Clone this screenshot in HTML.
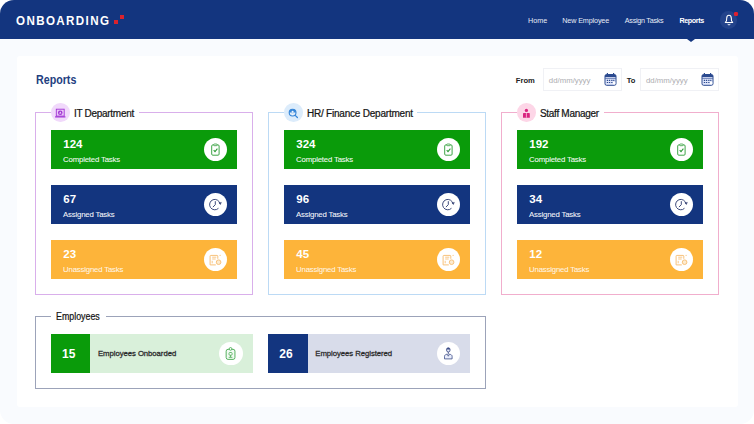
<!DOCTYPE html>
<html lang="en">
<head>
<meta charset="utf-8">
<title>Onboarding Reports</title>
<style>
*{box-sizing:border-box;margin:0;padding:0}
html,body{width:754px;height:424px;background:#fff;overflow:hidden}
body{font-family:"Liberation Sans",sans-serif;position:relative;color:#1c1c1c}
.app{position:absolute;left:0;top:0;width:754px;height:424px;background:#f9fbfe;border-radius:14px;overflow:hidden}
.hdr{position:absolute;left:0;top:0;width:754px;height:39px;background:#13357f}
.logo{position:absolute;left:16px;top:13.3px;transform:scaleY(1.15);transform-origin:0 50%;font-size:11.6px;line-height:14px;font-weight:700;color:#fff;letter-spacing:1.38px;white-space:nowrap}
.sq1{position:absolute;left:113.6px;top:19.7px;width:4.8px;height:4.8px;background:#d9232e}
.sq2{position:absolute;left:120px;top:15.3px;width:3.6px;height:3.6px;background:#d9232e}
.nav{position:absolute;top:15.6px;font-size:7.2px;line-height:10px;color:#e6ebf6;white-space:nowrap}
.nav.act{color:#fff;font-weight:700}
.tri{position:absolute;left:687.1px;top:39px;width:0;height:0;border-left:4.6px solid transparent;border-right:4.6px solid transparent;border-top:3.6px solid #13357f}
.bell{position:absolute;left:719.8px;top:11px;width:17.6px;height:17.6px;border-radius:50%;background:#23438b}
.bell svg{position:absolute;left:3.8px;top:3px}
.dot{position:absolute;left:733.9px;top:12px;width:4.4px;height:4.3px;border-radius:1.3px;background:#e0202e}
.card{position:absolute;left:16.5px;top:55.8px;width:721.2px;height:351.3px;background:#fff;border-radius:3px}
.title{position:absolute;left:36px;top:72.8px;font-size:12px;line-height:15px;font-weight:700;color:#23407f;white-space:nowrap;transform:scaleX(0.89);transform-origin:0 50%}
.lbl{position:absolute;top:76.1px;font-size:7.6px;line-height:10px;font-weight:700;color:#222;white-space:nowrap}
.inp{position:absolute;top:68px;width:79px;height:23px;border:1px solid #f0f1f5;background:#fff}
.inp span{position:absolute;left:4.8px;top:6.5px;font-size:7.8px;line-height:10px;color:#adadb1;white-space:nowrap}
.inp svg{position:absolute;left:60px;top:4.4px}
.fs{position:absolute;top:112.3px;width:217.6px;height:182.6px;border:1px solid #000}
.lg{position:absolute;top:-9.7px;left:15px;height:18px;background:#fff;white-space:nowrap;padding-right:5.2px}
.lg i{position:absolute;left:-0.3px;top:-0.3px;width:18.6px;height:18.6px;border-radius:50%;display:block}
.lg i svg{position:absolute;left:0.3px;top:0.3px;overflow:visible}
.lg b{display:block;position:relative;top:1px;margin-left:22.6px;font-size:10px;letter-spacing:-0.28px;line-height:18px;font-weight:400;color:#151515;-webkit-text-stroke:0.22px #151515}
.tile{position:absolute;left:15px;width:186px;height:39px;color:#fff}
.tile .n{position:absolute;left:12px;top:8.4px;font-size:11.5px;line-height:13px;font-weight:700}
.tile .t{position:absolute;left:11.8px;top:24.9px;font-size:7.8px;letter-spacing:-0.19px;line-height:10px;white-space:nowrap;color:rgba(255,255,255,0.93);-webkit-text-stroke:0.12px rgba(255,255,255,0.9)}
.o .t{color:rgba(255,255,255,0.85);-webkit-text-stroke:0.1px rgba(255,255,255,0.8)}
.ic{position:absolute;left:152.3px;top:7.8px;width:23.4px;height:23.4px;border-radius:50%;background:#fff}
.ic svg{position:absolute;left:0.2px;top:0.2px}
.g{background:#0a9b0a}.n1{background:#13357f}.o{background:#fdb43a}
.t1{top:16.7px}.t2{top:71.7px}.t3{top:126.7px}
.et{position:absolute;top:334px;width:202px;height:38.8px}
.et .nb{position:absolute;left:0;top:0;width:39.4px;height:38.8px;color:#fff;font-weight:700;font-size:12px;line-height:38.8px;padding-top:0.6px;padding-left:11px;text-align:left}
.et .t{position:absolute;left:47px;top:15px;font-size:7.75px;letter-spacing:-0.06px;line-height:10px;font-weight:400;color:#2a2a2a;-webkit-text-stroke:0.27px #2a2a2a;white-space:nowrap}
.et .ic{left:168.3px;top:7.7px}
</style>
</head>
<body>
<div class="app">
  <div class="hdr"></div>
  <div class="logo">ONBOARDING</div>
  <div class="sq1"></div><div class="sq2"></div>
  <div class="nav" style="left:528px">Home</div>
  <div class="nav" style="left:562.3px;letter-spacing:-0.13px">New Employee</div>
  <div class="nav" style="left:624.8px;letter-spacing:-0.27px">Assign Tasks</div>
  <div class="nav act" style="left:679.4px;letter-spacing:-0.4px">Reports</div>
  <div class="tri"></div>
  <div class="bell"><svg width="10" height="12" viewBox="0 0 10 12"><path d="M5 1.300C3.500 1.300 2.800 2.600 2.700 4.100L2.500 6.700 1.300 8.500H8.700L7.500 6.700 7.300 4.100C7.200 2.600 6.500 1.300 5 1.300Z" fill="none" stroke="#fff" stroke-width="1.050" stroke-linejoin="round"/><path d="M3.9 9.8 a1.1 1.1 0 0 0 2.2 0" fill="none" stroke="#fff" stroke-width="0.95"/></svg></div>
  <div class="dot"></div>

  <div class="card"></div>
  <div class="title">Reports</div>
  <div class="lbl" style="left:515.8px">From</div>
  <div class="inp" style="left:543px"><span>dd/mm/yyyy</span>
    <svg width="13" height="13" viewBox="0 0 13 13"><rect x="1" y="1.5" width="11" height="10.8" rx="1.6" fill="#dfe5fa" stroke="#2b4a8f" stroke-width="1"/><path d="M1 4V3.1A1.6 1.6 0 0 1 2.6 1.5H10.4A1.6 1.6 0 0 1 12 3.1V4Z" fill="#2b4a8f"/><path d="M3.4 0.4v2M9.6 0.4v2" stroke="#2b4a8f" stroke-width="1.2" stroke-linecap="round"/><path d="M1.2 5.3H11.8" stroke="#2b4a8f" stroke-width="0.7"/><path d="M2.8 7.3h1.3M4.9 7.3h1.3M7.2 7.3h1.3M9.2 7.3h1.2M2.8 9.5h1.3M4.9 9.5h1.3M7.2 9.5h1.3" stroke="#2b4a8f" stroke-width="1.2"/><rect x="9" y="8.7" width="2.3" height="2.6" fill="#fff"/></svg></div>
  <div class="lbl" style="left:626.8px">To</div>
  <div class="inp" style="left:640.2px"><span>dd/mm/yyyy</span>
    <svg width="13" height="13" viewBox="0 0 13 13"><rect x="1" y="1.5" width="11" height="10.8" rx="1.6" fill="#dfe5fa" stroke="#2b4a8f" stroke-width="1"/><path d="M1 4V3.1A1.6 1.6 0 0 1 2.6 1.5H10.4A1.6 1.6 0 0 1 12 3.1V4Z" fill="#2b4a8f"/><path d="M3.4 0.4v2M9.6 0.4v2" stroke="#2b4a8f" stroke-width="1.2" stroke-linecap="round"/><path d="M1.2 5.3H11.8" stroke="#2b4a8f" stroke-width="0.7"/><path d="M2.8 7.3h1.3M4.9 7.3h1.3M7.2 7.3h1.3M9.2 7.3h1.2M2.8 9.5h1.3M4.9 9.5h1.3M7.2 9.5h1.3" stroke="#2b4a8f" stroke-width="1.2"/><rect x="9" y="8.7" width="2.3" height="2.6" fill="#fff"/></svg></div>

  <!-- IT Department -->
  <div class="fs" style="left:35.3px;border-color:#d9afeb">
    <div class="lg"><i style="background:#f1d9fb"><svg width="18" height="18" viewBox="0 -0.3 18 18"><rect x="5.3" y="4.9" width="7.9" height="6.9" fill="#ecc8f8" stroke="#a136d4" stroke-width="0.9"/><path d="M4.1 12.6H14.4" stroke="#a136d4" stroke-width="1.1"/><circle cx="9.25" cy="8.4" r="2.3" fill="#a136d4"/><path d="M9.25 7.2L10.45 9.3H8.05Z" fill="#f6e3fc"/></svg></i><b>IT Department</b></div>
    <div class="tile g t1"><div class="n">124</div><div class="t">Completed Tasks</div><div class="ic"><svg width="23" height="23" viewBox="0 0 23 23"><rect x="7.700" y="6.900" width="7.400" height="10.300" rx="1.100" fill="none" stroke="#35a03e" stroke-width="0.950"/><rect x="9.700" y="6" width="3.400" height="1.700" rx="0.700" fill="#fff" stroke="#35a03e" stroke-width="0.800"/><path d="M9.700 12.200l1.300 1.400 2.400-2.900" fill="none" stroke="#2c9a36" stroke-width="1.050"/></svg></div></div>
    <div class="tile n1 t2"><div class="n">67</div><div class="t">Assigned Tasks</div><div class="ic"><svg width="23" height="23" viewBox="0 0 23 23"><path d="M14.480 15.280A5.200 5.200 0 1 1 15.950 10.880" fill="none" stroke="#3f4c7c" stroke-width="1"/><path d="M14.900 9.700L17.500 9.300 16.400 11.700Z" fill="#3f4c7c" stroke="#3f4c7c" stroke-width="0.300" stroke-linejoin="round"/><path d="M11.300 8.200V11.700L8.900 14.100" fill="none" stroke="#3f4c7c" stroke-width="1"/></svg></div></div>
    <div class="tile o t3"><div class="n">23</div><div class="t">Unassigned Tasks</div><div class="ic"><svg width="23" height="23" viewBox="0 0 23 23"><path d="M13.800 10.800V8.100Q13.800 7.400 13.100 7.400H6.800Q6.100 7.400 6.100 8.100V16.900H11.800" fill="none" stroke="#f8c27a" stroke-width="1"/><path d="M8.200 9.200H12.300M8.200 11H11.700M8.200 12.800V15.300" stroke="#f8c27a" stroke-width="0.900"/><circle cx="14.600" cy="14.200" r="2.300" fill="#fdebd0" stroke="#f8c27a" stroke-width="1"/><circle cx="16.100" cy="7.300" r="0.650" fill="#f8c27a"/></svg></div></div>
  </div>
  <!-- HR -->
  <div class="fs" style="left:268.3px;border-color:#bcdaf5">
    <div class="lg"><i style="background:#dcecfb"><svg width="18" height="18" viewBox="0 0 18 18"><circle cx="8.6" cy="8.6" r="3.4" fill="#e4effb" stroke="#3585d8" stroke-width="1.1"/><path d="M5.2 8.600A3.400 3.400 0 0 1 12 8.600Z" fill="#3585d8"/><circle cx="8.6" cy="7.700" r="1.05" fill="#eef5fd"/><path d="M6.600 10.900C6.900 9.400 10.300 9.400 10.600 10.900" fill="#fff" stroke="#8fbdea" stroke-width="0.5"/><path d="M11.2 11.3L13.4 13.5" stroke="#3585d8" stroke-width="1.2" stroke-linecap="round"/></svg></i><b style="letter-spacing:-0.21px;margin-right:-1.5px">HR/ Finance Department</b></div>
    <div class="tile g t1"><div class="n">324</div><div class="t">Completed Tasks</div><div class="ic"><svg width="23" height="23" viewBox="0 0 23 23"><rect x="7.700" y="6.900" width="7.400" height="10.300" rx="1.100" fill="none" stroke="#35a03e" stroke-width="0.950"/><rect x="9.700" y="6" width="3.400" height="1.700" rx="0.700" fill="#fff" stroke="#35a03e" stroke-width="0.800"/><path d="M9.700 12.200l1.300 1.400 2.400-2.900" fill="none" stroke="#2c9a36" stroke-width="1.050"/></svg></div></div>
    <div class="tile n1 t2"><div class="n">96</div><div class="t">Assigned Tasks</div><div class="ic"><svg width="23" height="23" viewBox="0 0 23 23"><path d="M14.480 15.280A5.200 5.200 0 1 1 15.950 10.880" fill="none" stroke="#3f4c7c" stroke-width="1"/><path d="M14.900 9.700L17.500 9.300 16.400 11.700Z" fill="#3f4c7c" stroke="#3f4c7c" stroke-width="0.300" stroke-linejoin="round"/><path d="M11.300 8.200V11.700L8.900 14.100" fill="none" stroke="#3f4c7c" stroke-width="1"/></svg></div></div>
    <div class="tile o t3"><div class="n">45</div><div class="t">Unassigned Tasks</div><div class="ic"><svg width="23" height="23" viewBox="0 0 23 23"><path d="M13.800 10.800V8.100Q13.800 7.400 13.100 7.400H6.800Q6.100 7.400 6.100 8.100V16.900H11.800" fill="none" stroke="#f8c27a" stroke-width="1"/><path d="M8.200 9.200H12.300M8.200 11H11.700M8.200 12.800V15.300" stroke="#f8c27a" stroke-width="0.900"/><circle cx="14.600" cy="14.200" r="2.300" fill="#fdebd0" stroke="#f8c27a" stroke-width="1"/><circle cx="16.100" cy="7.300" r="0.650" fill="#f8c27a"/></svg></div></div>
  </div>
  <!-- Staff -->
  <div class="fs" style="left:501.3px;border-color:#f1aecd">
    <div class="lg"><i style="background:#fdd6e7"><svg width="18" height="18" viewBox="-0.4 -0.4 18 18"><circle cx="9" cy="6" r="1.65" fill="#d9247f"/><path d="M5.600 9.400Q5.600 8.600 6.400 8.600H11.600Q12.400 8.600 12.400 9.400V13.300H5.600Z" fill="#d9247f"/><path d="M9 8.600V13.300" stroke="#fbc4dd" stroke-width="0.8"/></svg></i><b>Staff Manager</b></div>
    <div class="tile g t1"><div class="n">192</div><div class="t">Completed Tasks</div><div class="ic"><svg width="23" height="23" viewBox="0 0 23 23"><rect x="7.700" y="6.900" width="7.400" height="10.300" rx="1.100" fill="none" stroke="#35a03e" stroke-width="0.950"/><rect x="9.700" y="6" width="3.400" height="1.700" rx="0.700" fill="#fff" stroke="#35a03e" stroke-width="0.800"/><path d="M9.700 12.200l1.300 1.400 2.400-2.900" fill="none" stroke="#2c9a36" stroke-width="1.050"/></svg></div></div>
    <div class="tile n1 t2"><div class="n">34</div><div class="t">Assigned Tasks</div><div class="ic"><svg width="23" height="23" viewBox="0 0 23 23"><path d="M14.480 15.280A5.200 5.200 0 1 1 15.950 10.880" fill="none" stroke="#3f4c7c" stroke-width="1"/><path d="M14.900 9.700L17.500 9.300 16.400 11.700Z" fill="#3f4c7c" stroke="#3f4c7c" stroke-width="0.300" stroke-linejoin="round"/><path d="M11.300 8.200V11.700L8.900 14.100" fill="none" stroke="#3f4c7c" stroke-width="1"/></svg></div></div>
    <div class="tile o t3"><div class="n">12</div><div class="t">Unassigned Tasks</div><div class="ic"><svg width="23" height="23" viewBox="0 0 23 23"><path d="M13.800 10.800V8.100Q13.800 7.400 13.100 7.400H6.800Q6.100 7.400 6.100 8.100V16.900H11.800" fill="none" stroke="#f8c27a" stroke-width="1"/><path d="M8.200 9.200H12.300M8.200 11H11.700M8.200 12.800V15.300" stroke="#f8c27a" stroke-width="0.900"/><circle cx="14.600" cy="14.200" r="2.300" fill="#fdebd0" stroke="#f8c27a" stroke-width="1"/><circle cx="16.100" cy="7.300" r="0.650" fill="#f8c27a"/></svg></div></div>
  </div>

  <!-- Employees -->
  <div class="fs" style="left:35.3px;top:316.2px;width:450.6px;height:72.6px;border-color:#9ca3b9">
    <div class="lg" style="left:14.3px;width:55.7px;padding-left:5.4px;padding-right:0;top:-8.9px"><b style="margin-left:0;top:0;font-size:10px;letter-spacing:0;transform:scaleX(0.885);transform-origin:0 50%">Employees</b></div>
  </div>
  <div class="et" style="left:51px;background:#d9f0da"><div class="nb" style="background:#0a9b0a">15</div><div class="t">Employees Onboarded</div><div class="ic"><svg width="23" height="23" viewBox="0 0 23 23"><rect x="7.15" y="7.3" width="8.8" height="10.1" rx="1.9" fill="#f2fbf3" stroke="#45a94f" stroke-width="0.9"/><circle cx="11.55" cy="6.9" r="1.35" fill="#fff" stroke="#45a94f" stroke-width="0.85"/><rect x="10" y="10.5" width="3.1" height="2.7" rx="0.9" fill="#fff" stroke="#45a94f" stroke-width="0.8"/><path d="M11.55 13.2V15.2M9.700 15.300H13.400" stroke="#45a94f" stroke-width="0.8"/></svg></div></div>
  <div class="et" style="left:268.3px;background:#d8dcea"><div class="nb" style="background:#13357f">26</div><div class="t">Employees Registered</div><div class="ic" style="left:168.5px"><svg width="23" height="23" viewBox="0 0 23 23"><path d="M7.5 16.9V14.3C7.5 12.9 8.9 12.5 10.1 12.100L11.3 14.2 12.500 12.100C13.7 12.5 15.1 12.9 15.1 14.3V16.9Z" fill="#e9edfb" stroke="#3c4c86" stroke-width="0.8" stroke-linejoin="round"/><ellipse cx="11.3" cy="7.9" rx="1.8" ry="2.1" fill="#e9edfb" stroke="#3c4c86" stroke-width="0.85"/><path d="M9.500 7.600A1.800 1.900 0 0 1 13.100 7.600Z" fill="#3c4c86"/><path d="M11.300 10V12.400" stroke="#3c4c86" stroke-width="0.800"/></svg></div></div>
</div>
</body>
</html>
